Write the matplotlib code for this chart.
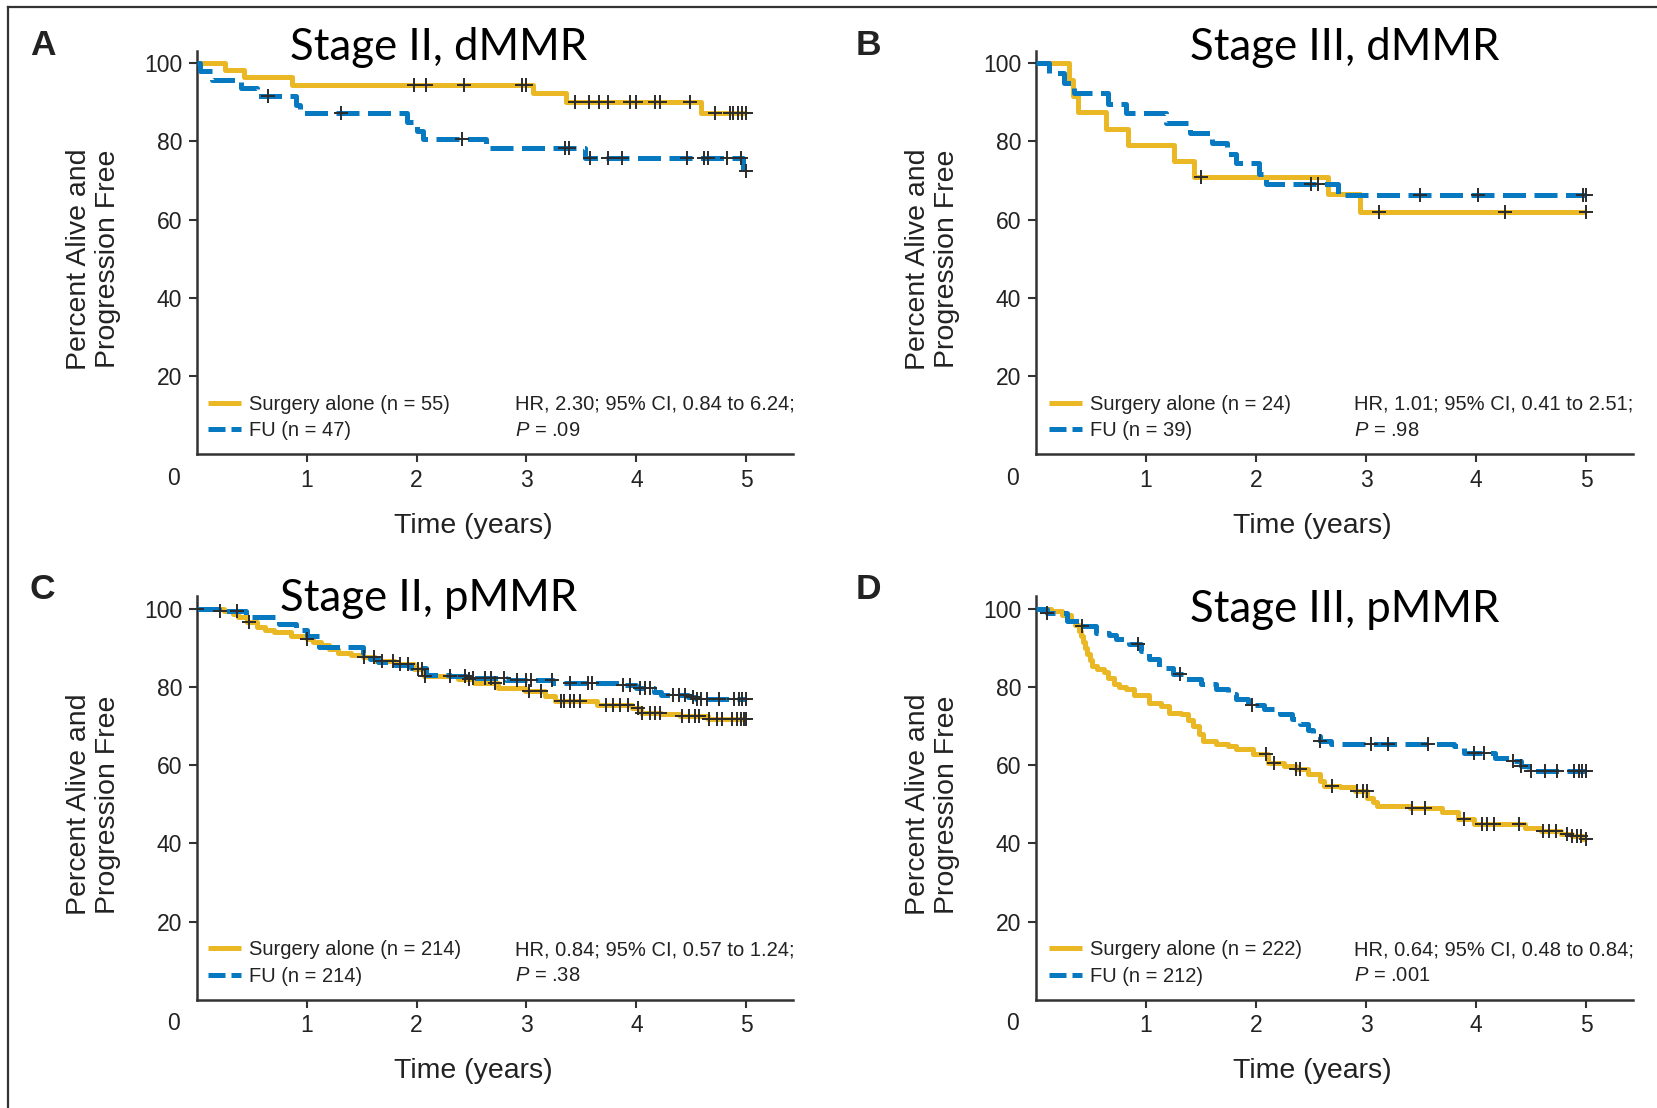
import numpy as np
import matplotlib.pyplot as plt
from matplotlib.lines import Line2D

plt.rcParams['font.family'] = ['Liberation Sans', 'DejaVu Sans']
plt.rcParams['mathtext.fontset'] = 'custom'
plt.rcParams['mathtext.it'] = 'Liberation Sans:italic'
plt.rcParams['mathtext.rm'] = 'Liberation Sans'

YELLOW = '#E9B824'
BLUE = '#0779C1'
INK = '#2b2b2b'

# ---- data (time in years, percent alive & progression free) ----
# A: Stage II, dMMR
a_surg_t = [0, 0.26, 0.43, 0.87, 3.06, 3.36, 4.59, 5.0]
a_surg_s = [100, 98.2, 96.4, 94.5, 92.5, 90.2, 87.2, 87.2]
a_surg_c = [1.98, 2.09, 2.43, 2.96, 3.0, 3.44, 3.57, 3.66, 3.74, 3.94, 4.0, 4.17, 4.21,
            4.49, 4.71, 4.85, 4.88, 4.92, 4.96, 5.0]
a_fu_t = [0, 0.03, 0.14, 0.4, 0.55, 0.9, 0.94, 1.91, 2.0, 2.06, 2.63, 3.53, 4.97, 5.0]
a_fu_s = [100, 97.9, 95.7, 93.6, 91.5, 89.4, 87.2, 85.0, 82.8, 80.6, 78.3, 75.7, 72.5, 72.5]
a_fu_c = [0.65, 1.31, 2.41, 3.35, 3.39, 3.58, 3.74, 3.87, 4.46, 4.61, 4.65, 4.82, 4.95, 5.0]

# B: Stage III, dMMR
b_surg_t = [0, 0.3, 0.34, 0.38, 0.64, 0.84, 1.26, 1.44, 2.65, 2.94, 5.0]
b_surg_s = [100, 95.8, 91.7, 87.5, 83.3, 79.2, 75.0, 70.8, 66.6, 62.0, 62.0]
b_surg_c = [1.5, 3.12, 4.26, 5.0]
b_fu_t = [0, 0.12, 0.26, 0.35, 0.66, 0.82, 1.18, 1.40, 1.60, 1.74, 1.82, 2.03, 2.09, 2.74, 5.0]
b_fu_s = [100, 97.4, 94.9, 92.3, 89.7, 87.2, 84.6, 82.1, 79.5, 76.9, 74.4, 71.8, 69.2, 66.4, 66.4]
b_fu_c = [2.50, 2.56, 3.49, 4.02, 4.97, 5.0]

# C: Stage II, pMMR
c_surg_t = [0, 0.25, 0.33, 0.38, 0.46, 0.55, 0.62, 0.7, 0.86, 1.0, 1.06, 1.13, 1.2, 1.29, 1.4,
            1.51, 1.62, 1.8, 1.98, 2.07, 2.38, 2.52, 2.74, 2.99, 3.17, 3.26, 3.64, 3.96, 4.04,
            4.22, 4.40, 4.65, 5.0]
c_surg_s = [100, 99.3, 98.6, 97.8, 96.6, 95.3, 94.6, 94.0, 93.1, 92.3, 91.5, 90.6, 89.7, 88.8,
            88.2, 87.6, 86.7, 85.8, 84.5, 82.8, 82.0, 81.1, 79.8, 79.0, 77.7, 76.4, 75.5, 74.7,
            73.4, 73.0, 72.5, 71.7, 71.7]
c_surg_c = [0.48, 1.0, 1.52, 1.61, 1.69, 1.79, 1.85, 1.92, 2.01, 2.05, 2.08, 2.48, 2.71, 3.02,
            3.13, 3.31, 3.34, 3.40, 3.43, 3.49, 3.72, 3.79, 3.85, 3.92, 4.01, 4.05, 4.12, 4.17,
            4.21, 4.41, 4.48, 4.53, 4.57, 4.66, 4.73, 4.78, 4.87, 4.91, 4.95, 4.98, 5.0]
c_fu_t = [0, 0.2, 0.45, 0.75, 0.9, 1.0, 1.11, 1.51, 1.58, 1.65, 1.8, 1.95, 2.09, 2.3, 2.45,
          2.81, 3.24, 3.86, 4.0, 4.16, 4.22, 4.47, 4.54, 5.0]
c_fu_s = [100, 99.3, 98.0, 96.0, 94.5, 93.0, 90.1, 88.8, 87.1, 86.3, 85.6, 84.8, 83.1, 82.8,
          82.3, 81.7, 80.9, 80.4, 79.6, 78.8, 77.9, 77.5, 77.0, 77.0]
c_fu_c = [0, 0.21, 0.37, 2.30, 2.44, 2.51, 2.62, 2.68, 2.80, 2.91, 3.0, 3.04, 3.23, 3.40, 3.56,
          3.60, 3.88, 3.94, 4.03, 4.08, 4.12, 4.33, 4.39, 4.44, 4.51, 4.55, 4.59, 4.64, 4.75,
          4.89, 4.93, 4.96, 5.0]

# D: Stage III, pMMR
d_surg_t = [0, 0.14, 0.24, 0.32, 0.36, 0.39, 0.41, 0.43, 0.45, 0.47, 0.49, 0.51, 0.56, 0.62,
            0.66, 0.71, 0.76, 0.82, 0.89, 1.03, 1.14, 1.21, 1.32, 1.38, 1.43, 1.48, 1.52, 1.64,
            1.75, 1.82, 1.97, 2.11, 2.25, 2.36, 2.47, 2.58, 2.62, 2.76, 2.90, 3.01, 3.06, 3.10,
            3.40, 3.69, 3.83, 3.98, 4.44, 4.59, 4.77, 4.87, 4.97, 5.0]
d_surg_s = [100, 99.5, 98.4, 96.9, 95.8, 94.4, 92.9, 91.4, 89.9, 88.4, 87.0, 85.4, 84.6, 83.8,
            82.3, 80.7, 80.0, 79.4, 77.9, 76.0, 75.1, 73.2, 73.0, 71.6, 69.9, 67.9, 66.2, 65.4,
            64.9, 64.1, 62.8, 60.6, 59.8, 58.9, 57.7, 56.0, 54.7, 54.3, 53.4, 51.7, 50.6, 49.6,
            49.1, 47.9, 46.2, 44.9, 44.0, 43.2, 42.4, 41.8, 41.1, 41.1]
d_surg_c = [2.09, 2.16, 2.36, 2.40, 2.69, 2.92, 2.97, 3.005, 3.42, 3.53, 3.89, 4.05, 4.10, 4.16,
            4.39, 4.61, 4.66, 4.72, 4.82, 4.87, 4.91, 4.95, 5.0]
d_fu_t = [0, 0.1, 0.28, 0.42, 0.55, 0.67, 0.73, 0.85, 0.96, 1.03, 1.12, 1.25, 1.35, 1.50, 1.64,
          1.75, 1.82, 1.93, 2.07, 2.22, 2.33, 2.40, 2.47, 2.52, 2.58, 2.68, 3.80, 3.89, 4.17,
          4.30, 4.41, 4.48, 5.0]
d_fu_s = [100, 99.0, 96.9, 95.6, 93.9, 93.4, 92.2, 90.9, 89.2, 87.1, 84.9, 83.2, 81.9, 80.7,
          79.4, 78.1, 76.8, 75.5, 74.3, 73.0, 71.7, 70.4, 69.1, 67.4, 66.2, 65.5, 64.9, 63.1,
          61.9, 61.0, 59.7, 58.4, 58.4]
d_fu_c = [0.1, 0.42, 0.93, 1.31, 1.96, 2.58, 3.04, 3.2, 3.56, 3.98, 4.07, 4.33, 4.41, 4.50,
          4.62, 4.73, 4.89, 4.93, 4.96, 5.0]

letters = ['A', 'B', 'C', 'D']
titles = ['Stage II, dMMR', 'Stage III, dMMR', 'Stage II, pMMR', 'Stage III, pMMR']
n_surg = [55, 24, 214, 222]
n_fu = [47, 39, 214, 212]
hr_text = ['HR, 2.30; 95% CI, 0.84 to 6.24;', 'HR, 1.01; 95% CI, 0.41 to 2.51;',
           'HR, 0.84; 95% CI, 0.57 to 1.24;', 'HR, 0.64; 95% CI, 0.48 to 0.84;']
p_text = ['.09', '.98', '.38', '.001']

panels = [
    (a_surg_t, a_surg_s, a_surg_c, a_fu_t, a_fu_s, a_fu_c),
    (b_surg_t, b_surg_s, b_surg_c, b_fu_t, b_fu_s, b_fu_c),
    (c_surg_t, c_surg_s, c_surg_c, c_fu_t, c_fu_s, c_fu_c),
    (d_surg_t, d_surg_s, d_surg_c, d_fu_t, d_fu_s, d_fu_c),
]

# ---- layout (pixels of the 1657x1108 canvas) ----
W, H = 1657, 1108
boxes = [(196.6, 50.7, 792.6, 454.4), (1035.7, 50.7, 1632.7, 454.4),
         (196.6, 596.2, 792.6, 999.7), (1035.7, 596.2, 1632.7, 999.7)]
title_pos = [(0.406, 0.977), (0.518, 0.977), (0.39, 0.963), (0.518, 0.935)]
letter_pos = [(-0.280, 0.989), (-0.301, 0.989), (-0.280, 0.993), (-0.301, 0.993)]
legend_x = [0.019, 0.0223, 0.019, 0.0223]
hr_x = [0.535, 0.533, 0.535, 0.533]
LW = 3.6

fig = plt.figure(figsize=(W / 100, H / 100), dpi=100)


def at_time(t, s, c):
    idx = np.searchsorted(t, c, side='right') - 1
    return np.asarray(s)[idx]


for i, (st, ss, sc, ft, fs, fc) in enumerate(panels):
    l, tp, r, b = boxes[i]
    ax = fig.add_axes([l / W, 1 - b / H, (r - l) / W, (b - tp) / H])

    ax.step(st, ss, where='post', color=YELLOW, lw=LW, solid_capstyle='butt', zorder=2)
    ax.step(ft, fs, where='post', color=BLUE, lw=LW, ls=(0, (4.6, 1.7)),
            dash_capstyle='butt', zorder=3)
    ax.plot(sc, at_time(st, ss, sc), '+', color=INK, ms=9.5, mew=1.4, zorder=4)
    ax.plot(fc, at_time(ft, fs, fc), '+', color=INK, ms=9.5, mew=1.4, zorder=4)

    ax.set_xlim(0, 5.42)
    ax.set_ylim(0, 103.2)
    ax.set_xticks([1, 2, 3, 4, 5])
    ax.set_yticks([20, 40, 60, 80, 100])
    for side in ['top', 'right']:
        ax.spines[side].set_visible(False)
    for side in ['left', 'bottom']:
        ax.spines[side].set_color('#333333')
        ax.spines[side].set_linewidth(1.8)
    ax.tick_params(direction='out', length=6, width=1.5, color='#333333',
                   labelsize=16.5, pad=4.5, labelcolor='#222222')
    ax.annotate('0', xy=(0, 0), xytext=(-23, -24), textcoords='offset pixels',
                ha='center', va='center', fontsize=16.5, color='#222222', annotation_clip=False)

    ax.text(0.464, -0.177, 'Time (years)', transform=ax.transAxes,
            ha='center', va='center', fontsize=20.5, color='#222222')
    ax.text(-0.173, 0.484, 'Percent Alive and\nProgression Free', transform=ax.transAxes,
            rotation=90, ha='center', va='center', fontsize=20.5, color='#222222',
            multialignment='center', linespacing=1.15)
    ax.text(title_pos[i][0], title_pos[i][1], titles[i], transform=ax.transAxes,
            ha='center', va='baseline', fontsize=31.5, family=['Lato', 'DejaVu Sans'], color='black')
    ax.text(letter_pos[i][0], letter_pos[i][1], letters[i], transform=ax.transAxes,
            ha='left', va='baseline', fontsize=25.5, fontweight='bold', color='#222222')

    # legend proxies: shorter dash so the blue sample shows two dashes
    h_surg = Line2D([], [], color=YELLOW, lw=LW, solid_capstyle='butt')
    h_fu = Line2D([], [], color=BLUE, lw=LW, ls=(0, (3.4, 1.2)), dash_capstyle='butt')
    ax.legend([h_surg, h_fu],
              ['Surgery alone (n = %d)' % n_surg[i], 'FU (n = %d)' % n_fu[i]],
              loc='center left', bbox_to_anchor=(legend_x[i], 0.091), frameon=False,
              borderpad=0, borderaxespad=0, handlelength=1.64, handletextpad=0.42,
              labelspacing=0.36, fontsize=14.5, labelcolor='#222222')
    ax.text(hr_x[i], 0.124, hr_text[i], transform=ax.transAxes, ha='left', va='center',
            fontsize=14.5, color='#222222')
    ax.text(hr_x[i], 0.059, r'$P$ = ' + p_text[i], transform=ax.transAxes, ha='left',
            va='center', fontsize=14.5, color='#222222')

# frame of the original figure (top and left edges)
fig.add_artist(Line2D([8 / W, 1], [1 - 6.5 / H, 1 - 6.5 / H], color='#333333', lw=1.6))
fig.add_artist(Line2D([8 / W, 8 / W], [0, 1 - 6.5 / H], color='#333333', lw=1.6))

fig.savefig('out.png', dpi=100)
